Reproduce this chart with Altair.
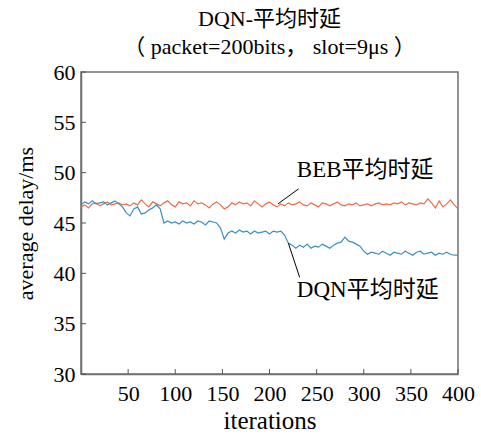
import altair as alt
import pandas as pd

iters = list(range(0, 401, 4))

dqn = [46.8, 47.1, 46.9, 47.2, 46.9, 47.0, 47.1, 46.8, 47.0, 47.2,
       46.9, 46.6, 46.0, 45.7, 46.4, 46.6, 45.9, 46.0, 46.3, 46.5,
       46.8, 46.4, 45.0, 45.2, 45.0, 45.1, 44.9, 45.2, 45.0, 45.1,
       44.9, 45.2, 45.1, 44.8, 45.2, 45.1, 45.0, 44.5, 43.4, 44.0,
       44.2, 44.0, 44.3, 44.1, 44.2, 43.9, 44.2, 44.0, 44.1, 44.2,
       43.9, 44.2, 44.1, 44.2, 43.8, 43.0, 42.8, 42.5, 42.8, 42.6,
       42.9, 42.5, 42.7, 42.6, 42.9, 42.7, 42.5, 42.8, 43.0, 43.1,
       43.6, 43.2, 43.1, 42.9, 42.7, 42.2, 41.9, 42.1, 42.0, 41.9,
       42.2, 42.0, 41.8, 42.1, 42.0, 41.9, 42.2, 42.0, 41.8, 42.1,
       42.2, 41.9, 42.0, 42.1, 41.8, 42.0, 41.9, 42.1, 41.9, 41.8,
       41.8]

beb = [46.6, 46.8, 46.5, 46.9, 47.0, 46.7, 46.9, 47.1, 46.8, 46.9,
       47.0, 46.8, 46.9, 46.7, 47.0, 46.8, 47.3, 46.9, 46.6, 47.1,
       46.9, 46.7, 47.0, 47.2, 46.8, 46.6, 47.1, 46.9, 47.0, 46.7,
       47.2, 46.9, 47.0, 46.8, 46.5, 46.9, 47.1, 46.8, 46.4, 46.6,
       47.0, 46.8, 47.1, 46.9, 47.0, 46.7, 47.2, 46.9, 46.6, 46.9,
       47.1, 46.8, 46.6, 46.9, 46.7, 47.0, 46.8, 46.9, 47.1, 46.8,
       46.7, 47.0, 46.8, 46.6, 47.0, 46.9, 46.7, 46.9, 47.1, 46.8,
       46.7, 46.9, 46.8, 47.0, 46.7, 46.8, 46.9, 46.7, 46.9, 47.0,
       46.8, 46.9, 46.8, 47.0, 46.9, 47.1, 46.8, 47.0, 46.9, 46.8,
       47.0, 46.9, 47.4, 47.0, 46.5, 47.2, 46.6, 46.9, 47.3, 46.8,
       46.4]

series_names = ["BEB", "DQN"]
series_colors = ["#e8704a", "#3b8fc4"]

y_ticks = [30, 35, 40, 45, 50, 55, 60]
x_ticks = [50, 100, 150, 200, 250, 300, 350, 400]

ann_text = ["BEB平均时延", "DQN平均时延"]
ann_tx = [229, 229]
ann_ty = [50.3, 38.3]
ann_x0 = [209, 220]
ann_y0 = [46.9, 43.0]
ann_x1 = [231, 232]
ann_y1 = [48.4, 39.6]

LATIN = "Liberation Serif, Noto Sans CJK SC"

rows = []
for i, x in enumerate(iters):
    rows.append({"it": x, "v": beb[i], "s": "BEB"})
    rows.append({"it": x, "v": dqn[i], "s": "DQN"})
df = pd.DataFrame(rows)

xs = alt.Scale(domain=[0, 400], nice=False)
ys = alt.Scale(domain=[30, 60], nice=False)

lines = alt.Chart(df).mark_line(strokeWidth=1.2, clip=True).encode(
    x=alt.X("it:Q", scale=xs,
            axis=alt.Axis(values=x_ticks, title="iterations", ticks=False,
                          labelOverlap=False, labelFlush=False, labelBound=False,
                          labelPadding=9, titlePadding=4, titleFontSize=25)),
    y=alt.Y("v:Q", scale=ys,
            axis=alt.Axis(values=y_ticks, title="average delay/ms", ticks=False,
                          labelOverlap=False, labelFlush=False, labelBound=False,
                          labelPadding=6, titlePadding=16)),
    color=alt.Color("s:N", scale=alt.Scale(domain=series_names, range=series_colors),
                    legend=None),
)

ytick_df = pd.DataFrame({"t": y_ticks})
xtick_df = pd.DataFrame({"t": x_ticks})

yt = alt.Chart(ytick_df).mark_rule(color="#555", strokeWidth=1).encode(
    y=alt.Y("t:Q", scale=ys), x=alt.value(0), x2=alt.value(5))
xt = alt.Chart(xtick_df).mark_rule(color="#555", strokeWidth=1).encode(
    x=alt.X("t:Q", scale=xs), y=alt.value(302), y2=alt.value(297))

ann_df = pd.DataFrame({"text": ann_text, "tx": ann_tx, "ty": ann_ty,
                       "x0": ann_x0, "y0": ann_y0, "x1": ann_x1, "y1": ann_y1})

ann_lines = alt.Chart(ann_df).mark_rule(color="black", strokeWidth=1).encode(
    x=alt.X("x0:Q", scale=xs), y=alt.Y("y0:Q", scale=ys),
    x2="x1:Q", y2="y1:Q")
ann_texts = alt.Chart(ann_df).mark_text(
    align="left", baseline="middle", font=LATIN, fontSize=23, color="black").encode(
    x=alt.X("tx:Q", scale=xs), y=alt.Y("ty:Q", scale=ys), text="text:N")

chart = alt.layer(lines, yt, xt, ann_lines, ann_texts).properties(
    width=377, height=302,
    autosize=alt.AutoSizeParams(type="none"),
    padding={"left": 81, "top": 72, "right": 23, "bottom": 63},
    title=alt.TitleParams(text="DQN-平均时延",
                          subtitle="（ packet=200bits， slot=9μs ）",
                          anchor="middle", font=LATIN, subtitleFont=LATIN,
                          fontSize=22, subtitleFontSize=22, fontWeight="normal",
                          color="black", subtitleColor="black",
                          subtitlePadding=6, offset=2),
).configure_view(stroke="#707070", strokeWidth=1.5).configure_axis(
    domainColor="#707070", domainWidth=1.5, grid=False,
    labelFont=LATIN, labelFontSize=22, labelColor="black",
    titleFont=LATIN, titleFontSize=22, titleFontWeight="normal", titleColor="black",
)

chart.save("out.html", embed_options={"renderer": "svg", "actions": False})
